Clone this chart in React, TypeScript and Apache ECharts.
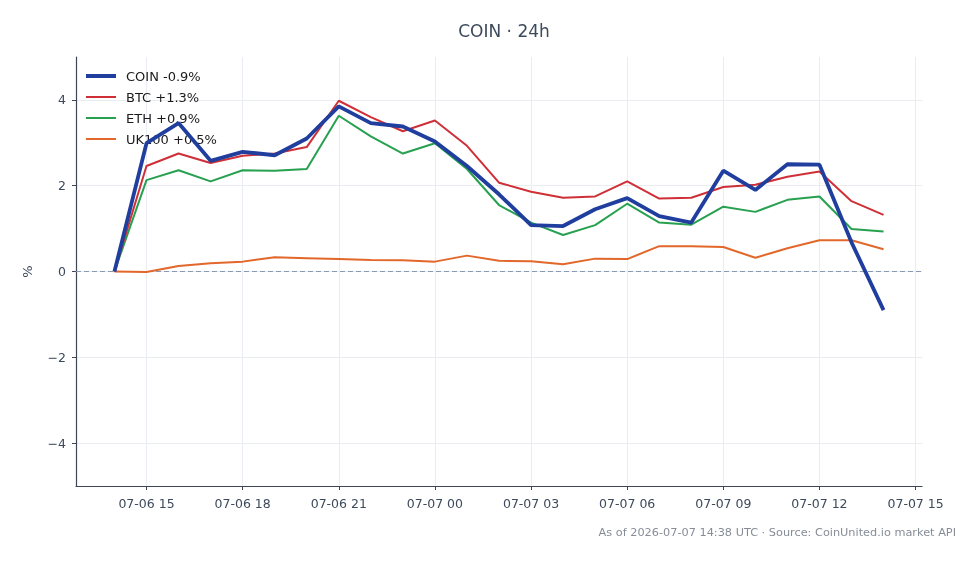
import React, { useEffect, useRef } from "react";
import * as echarts from "echarts";

// hours since 2026-07-06 00:00 UTC
const HOURS = [14, 15, 16, 17, 18, 19, 20, 21, 22, 23, 24, 25, 26, 27, 28, 29, 30, 31, 32, 33, 34, 35, 36, 37, 38];
const COIN = [0, 2.99, 3.46, 2.58, 2.79, 2.71, 3.1, 3.85, 3.46, 3.38, 3.03, 2.46, 1.8, 1.08, 1.06, 1.45, 1.71, 1.29, 1.14, 2.35, 1.9, 2.5, 2.49, 0.68, -0.9];
const BTC = [0, 2.46, 2.75, 2.53, 2.7, 2.75, 2.9, 3.98, 3.6, 3.27, 3.52, 2.93, 2.07, 1.86, 1.72, 1.75, 2.1, 1.7, 1.72, 1.97, 2.02, 2.21, 2.33, 1.64, 1.32];
const ETH = [0, 2.13, 2.36, 2.1, 2.36, 2.35, 2.39, 3.63, 3.15, 2.75, 2.99, 2.39, 1.55, 1.14, 0.85, 1.08, 1.58, 1.14, 1.09, 1.51, 1.39, 1.67, 1.75, 0.99, 0.93];
const UK100 = [0, -0.01, 0.13, 0.19, 0.23, 0.33, 0.31, 0.29, 0.27, 0.26, 0.23, 0.37, 0.25, 0.24, 0.17, 0.3, 0.29, 0.59, 0.59, 0.57, 0.32, 0.54, 0.73, 0.73, 0.52];
const SERIES_NAMES = ["COIN -0.9%", "BTC +1.3%", "ETH +0.9%", "UK100 +0.5%"];
const X_TICKS = [15, 18, 21, 24, 27, 30, 33, 36, 39];
const Y_TICKS = [-4, -2, 0, 2, 4];
const TITLE = "COIN · 24h";
const FOOTNOTE = "As of 2026-07-07 14:38 UTC · Source: CoinUnited.io market API";

const FONT = "DejaVu Sans";
const AXIS_COLOR = "#3d4655";
const LABEL_COLOR = "#3d4a5c";

function fmtHour(h: number): string {
  const day = 6 + Math.floor(h / 24);
  const hh = h % 24;
  return `07-${String(day).padStart(2, "0")} ${String(hh).padStart(2, "0")}`;
}

export default function App() {
  const ref = useRef<HTMLDivElement>(null);
  useEffect(() => {
    if (!ref.current) return;
    const chart = echarts.init(ref.current, undefined, { renderer: "svg" });
    const pair = (arr: number[]) => HOURS.map((h, i) => [h, arr[i]]);
    const colors = ["#1f3e9e", "#cf3037", "#27a050", "#e2672a"];
    const widths = [3.8, 2, 2, 2];
    const icons = [
      "path://M0,0M0,5L30,5L30,9L0,9ZM30,14",
      "path://M0,0M0,6L30,6L30,8L0,8ZM30,14",
      "path://M0,0M0,6L30,6L30,8L0,8ZM30,14",
      "path://M0,0M0,6L30,6L30,8L0,8ZM30,14",
    ];
    const datas = [COIN, BTC, ETH, UK100];
    const series: any[] = datas.map((d, k) => ({
      name: SERIES_NAMES[k],
      type: "line",
      data: pair(d),
      symbol: "none",
      z: 10 - k,
      lineStyle: { color: colors[k], width: widths[k] },
      itemStyle: { color: colors[k] },
    }));
    series[0].markLine = {
      silent: true,
      symbol: "none",
      label: { show: false },
      lineStyle: { color: "#8a9ab0", type: [5, 3], width: 1 },
      data: [{ yAxis: 0 }],
      z: 1,
    };
    chart.setOption({
      animation: false,
      textStyle: { fontFamily: FONT },
      title: {
        text: TITLE,
        left: 499,
        textAlign: "center",
        top: 17,
        textStyle: { fontFamily: FONT, fontSize: 17, fontWeight: "normal", color: LABEL_COLOR },
      },
      legend: {
        left: 81,
        top: 64,
        orient: "vertical",
        itemWidth: 30,
        itemHeight: 14,
        itemGap: 7,
        itemStyle: { borderWidth: 0 },
        textStyle: { fontFamily: FONT, fontSize: 13, color: "#1a1a1a", padding: [0, 0, 0, 5] },
        data: SERIES_NAMES.map((n, k) => ({ name: n, icon: icons[k] })),
      },
      grid: { left: 76, right: 58, top: 57, bottom: 78, containLabel: false },
      xAxis: {
        type: "value",
        min: 12.8,
        max: 39.2,
        axisLine: { onZero: false, lineStyle: { color: AXIS_COLOR, width: 1.2 } },
        axisTick: { show: true, length: 4, customValues: X_TICKS, lineStyle: { color: AXIS_COLOR } },
        axisLabel: {
          customValues: X_TICKS,
          formatter: (v: number) => fmtHour(v),
          color: LABEL_COLOR,
          fontSize: 12.5,
          fontFamily: FONT,
          margin: 11,
        },
        splitLine: { show: true, lineStyle: { color: "#e9ecf0", width: 1 } },
      },
      yAxis: {
        type: "value",
        min: -5,
        max: 5,
        name: "%",
        nameLocation: "middle",
        nameGap: 42,
        nameTextStyle: { color: LABEL_COLOR, fontSize: 13, fontFamily: FONT },
        axisLine: { show: true, lineStyle: { color: AXIS_COLOR, width: 1.2 } },
        axisTick: { show: true, length: 4, customValues: Y_TICKS, lineStyle: { color: AXIS_COLOR } },
        axisLabel: {
          customValues: Y_TICKS,
          formatter: (v: number) => (v < 0 ? "\u2212" + Math.abs(v) : String(v)),
          color: LABEL_COLOR,
          fontSize: 12.5,
          fontFamily: FONT,
          margin: 10,
        },
        splitLine: { show: true, lineStyle: { color: "#e9ecf0", width: 1 } },
      },
      graphic: [
        {
          type: "text",
          right: 24,
          top: 527,
          style: { text: FOOTNOTE, fill: "#868d97", fontSize: 11.3, fontFamily: FONT },
        },
      ],
      series,
    });
    return () => chart.dispose();
  }, []);
  return <div ref={ref} style={{ width: 980, height: 564, position: "fixed", left: 0, top: 0 }} />;
}
